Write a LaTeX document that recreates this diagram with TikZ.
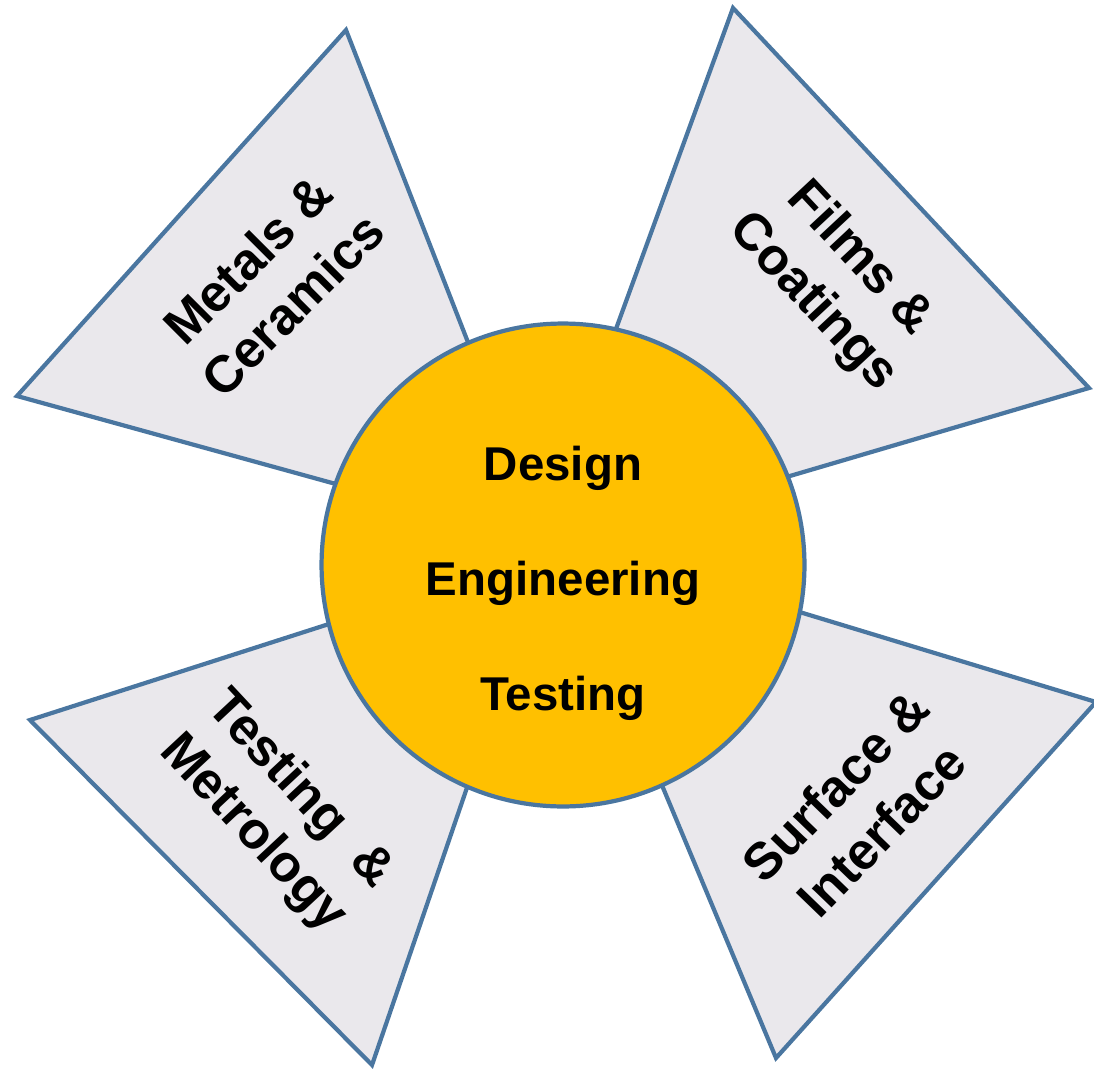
\documentclass[tikz,border=0pt]{standalone}
\usepackage{fontspec}
\setmainfont{Liberation Sans}
\usepackage{xcolor}
\definecolor{edgeblue}{HTML}{4A76A0}
\definecolor{petalgray}{HTML}{EAE8EC}
\definecolor{hubgold}{HTML}{FFC000}

\begin{document}
\begin{tikzpicture}[
      x=0.02cm, y=-0.02cm, % one unit per pixel of the sketch
      petal/.style={
        draw=edgeblue,
        fill=petalgray,
        line width=2.4pt
      },
      hub/.style={
        circle,
        draw=edgeblue,
        fill=hubgold,
        line width=2.4pt,
        minimum size=9.66cm,
        inner sep=0pt
      },
      petaltext/.style={
        align=center,
        inner sep=0pt,
        font=\fontsize{29.5}{36.3}\selectfont\bfseries
      },
      hubtext/.style={
        anchor=base,
        inner sep=0pt,
        font=\fontsize{27}{32}\selectfont\bfseries
      }
    ]
    \useasboundingbox (0,0) rectangle (1094,1068);
    % the four petals, tips hidden under the hub
    \draw[petal] (346,30) -- (17,396) -- (546,542) -- cycle;
    \draw[petal] (733,8) -- (1089,388) -- (535,551) -- cycle;
    \draw[petal] (30,720) -- (372,1065) -- (547,554) -- cycle;
    \draw[petal] (1096,702) -- (776,1058) -- (559,539) -- cycle;
    % hub
    \node[hub] (hub) at (563,565) {};
    \node[hubtext] (design) at (563,480) {Design};
    \node[hubtext] (engineering) at (563,595) {Engineering};
    \node[hubtext] (testing) at (563,710) {Testing};
    % petal labels
    \node[petaltext, rotate=45] (metals) at (270,282) {Metals \&\\Ceramics};
    \node[petaltext, rotate=-47] (films) at (836,281) {Films \&\\Coatings};
    \node[petaltext, rotate=-47] (metrology) at (276,812) {Testing\hspace{0.3em} \&\\Metrology};
    \node[petaltext, rotate=46] (surface) at (858,808) {Surface \&\\Interface};
  \end{tikzpicture}
\end{document}
